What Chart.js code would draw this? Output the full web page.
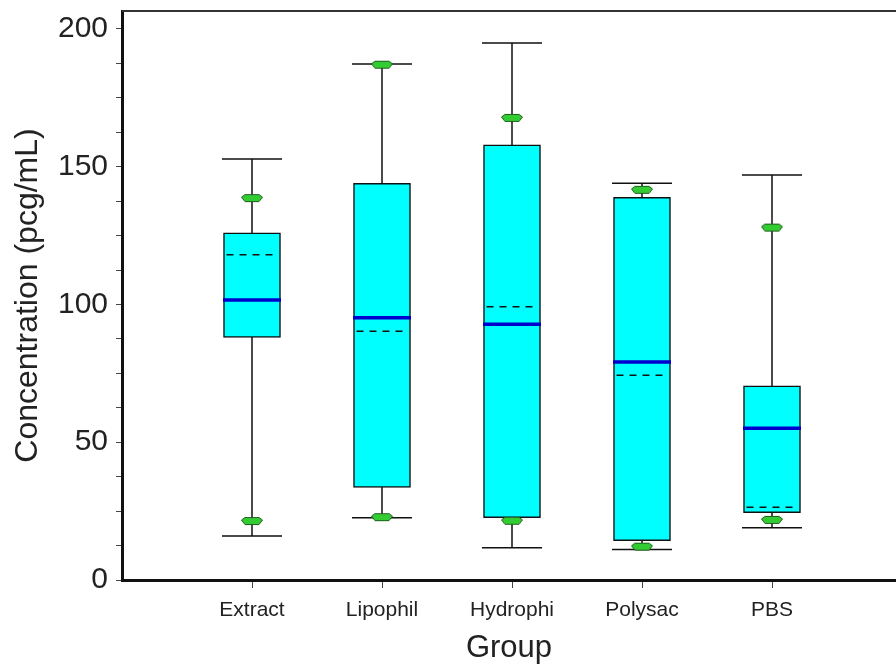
<!DOCTYPE html>
<html>
<head>
<meta charset="utf-8">
<script src="https://cdn.jsdelivr.net/npm/chart.js@4"></script>
<style>
  html, body { margin: 0; padding: 0; background: #fff; overflow: hidden; }
  canvas { display: block; }
</style>
</head>
<body>
<canvas id="chart" width="896" height="666"></canvas>
<script>
// ===== DATA =====
const categories = ["Extract", "Lipophil", "Hydrophi", "Polysac", "PBS"];
const whiskerLow  = [16.0, 22.6, 11.7, 11.1, 19.0];
const pct5        = [21.4, 22.8, 21.5, 12.1, 21.8];
const q1          = [88.0, 33.6, 22.6, 14.3, 24.4];
const median      = [101.6, 95.2, 92.8, 79.1, 55.1];
const mean        = [118.0, 90.3, 99.2, 74.3, 26.4];
const q3          = [126.0, 144.0, 157.9, 138.9, 70.5];
const pct95       = [138.6, 187.0, 167.7, 141.6, 127.9];
const whiskerHigh = [152.8, 187.3, 194.9, 144.0, 147.0];

// ===== STYLE =====
const textColor = "#222";
const fontFamily = "'Liberation Sans', Arial, sans-serif";
const boxWidth = 57;
const capWidth = 60;

// green percentile marker drawn once into a small canvas
function makeMarker() {
    const c = document.createElement("canvas");
    c.width = 24;
    c.height = 10;
    const g = c.getContext("2d");
    g.beginPath();
    g.moveTo(5, 1.5);
    g.lineTo(19, 1.5);
    g.lineTo(22.5, 4);
    g.lineTo(19, 8.5);
    g.lineTo(5, 8.5);
    g.lineTo(1.5, 4);
    g.closePath();
    g.fillStyle = "#33cc33";
    g.fill();
    g.strokeStyle = "#1f5f1f";
    g.lineWidth = 1;
    g.stroke();
    return c;
}
const marker = makeMarker();

// no extra room for overflowing tick labels
function noPadding(s) {
    s.paddingTop = 0;
    s.paddingBottom = 0;
    s.paddingLeft = 0;
    s.paddingRight = 0;
}

// ===== PLUGINS =====
const whiskerPlugin = {
    id: "whiskers",
    beforeDatasetsDraw(chart) {
        const { ctx, scales: { x, y } } = chart;
        ctx.save();
        ctx.strokeStyle = "#111";
        ctx.lineWidth = 1.5;
        categories.forEach((c, i) => {
            const px = Math.round(x.getPixelForValue(i + 1));
            const lo = y.getPixelForValue(whiskerLow[i]);
            const hi = y.getPixelForValue(whiskerHigh[i]);
            ctx.beginPath();
            ctx.moveTo(px, lo);
            ctx.lineTo(px, hi);
            ctx.moveTo(px - capWidth / 2, lo);
            ctx.lineTo(px + capWidth / 2, lo);
            ctx.moveTo(px - capWidth / 2, hi);
            ctx.lineTo(px + capWidth / 2, hi);
            ctx.stroke();
        });
        ctx.restore();
    },
    afterDatasetsDraw(chart) {
        const { ctx, scales: { x, y } } = chart;
        ctx.save();
        ctx.strokeStyle = "#111";
        ctx.lineWidth = 1.5;
        ctx.setLineDash([7, 6]);
        categories.forEach((c, i) => {
            const px = Math.round(x.getPixelForValue(i + 1));
            const py = y.getPixelForValue(mean[i]);
            ctx.beginPath();
            ctx.moveTo(px - boxWidth / 2 + 3, py);
            ctx.lineTo(px + boxWidth / 2 - 2, py);
            ctx.stroke();
        });
        ctx.restore();
    },
    afterDraw(chart) {
        // frame line along the top of the plot
        const { ctx, chartArea } = chart;
        ctx.save();
        ctx.strokeStyle = "#333";
        ctx.lineWidth = 2;
        ctx.beginPath();
        ctx.moveTo(chartArea.left, chartArea.top);
        ctx.lineTo(chartArea.right, chartArea.top);
        ctx.stroke();
        ctx.restore();
    }
};

// ===== CHART =====
const xMax = (896 - 122) / 130;

const chart = new Chart(document.getElementById("chart"), {
    type: "bar",
    data: {
        datasets: [
            {
                type: "scatter",
                label: "median",
                data: categories.map((c, i) => ({ x: i + 1, y: median[i] })),
                pointStyle: "line",
                pointRadius: 29,
                borderColor: "#0000cc",
                borderWidth: 3.5,
                order: 0
            },
            {
                type: "scatter",
                label: "5th / 95th",
                data: categories.flatMap((c, i) => [
                    { x: i + 1, y: pct5[i] },
                    { x: i + 1, y: pct95[i] }
                ]),
                pointStyle: marker,
                order: 1
            },
            {
                label: "box",
                data: categories.map((c, i) => ({ x: i + 1, y: [q1[i], q3[i]] })),
                backgroundColor: "#00ffff",
                borderColor: "#111",
                borderWidth: 1.5,
                borderSkipped: false,
                barThickness: boxWidth,
                order: 2
            }
        ]
    },
    options: {
        responsive: false,
        devicePixelRatio: 1,
        animation: false,
        events: [],
        layout: { autoPadding: false, padding: { top: 11, right: 0, left: 0, bottom: 0 } },
        plugins: {
            legend: { display: false },
            tooltip: { enabled: false }
        },
        scales: {
            x: {
                type: "linear",
                min: 0,
                max: xMax,
                offset: false,
                afterBuildTicks: s => { s.ticks = categories.map((c, i) => ({ value: i + 1 })); },
                afterFit: s => { s.height = 86; noPadding(s); },
                ticks: {
                    autoSkip: false,
                    maxRotation: 0,
                    padding: 10,
                    color: textColor,
                    font: { family: fontFamily, size: 21 },
                    callback: v => categories[v - 1] || ""
                },
                grid: { offset: false, drawOnChartArea: false, drawTicks: true, tickLength: 8, color: "#444" },
                border: { display: true, color: "#111", width: 3 },
                title: {
                    display: true,
                    text: "Group",
                    color: textColor,
                    font: { family: fontFamily, size: 31, lineHeight: 1.1 },
                    padding: { top: 0, bottom: 0 }
                }
            },
            y: {
                min: 0,
                max: 206.5,
                afterFit: s => { s.width = 122; noPadding(s); },
                ticks: {
                    stepSize: 12.5,
                    includeBounds: false,
                    autoSkip: false,
                    padding: 8,
                    color: textColor,
                    font: { family: fontFamily, size: 30 },
                    callback: v => (v % 50 === 0 ? v : "")
                },
                grid: { drawOnChartArea: false, drawTicks: true, tickLength: 6, color: "#444" },
                border: { display: true, color: "#111", width: 3 },
                title: {
                    display: true,
                    text: "Concentration (pcg/mL)",
                    color: textColor,
                    font: { family: fontFamily, size: 32, lineHeight: 1.2 },
                    padding: { top: 9, bottom: 0 }
                }
            }
        }
    },
    plugins: [whiskerPlugin]
});
</script>
</body>
</html>
